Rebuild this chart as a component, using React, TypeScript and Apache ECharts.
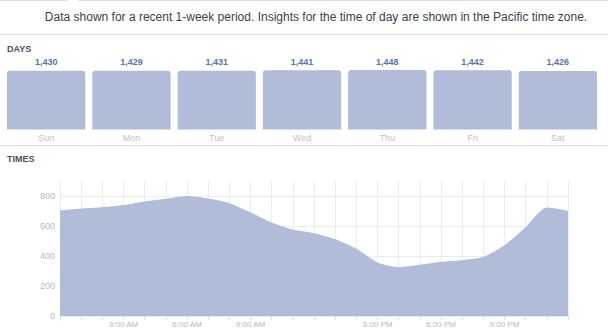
import React, { useEffect, useRef } from "react";
import * as echarts from "echarts";

const dayNames = ["Sun", "Mon", "Tue", "Wed", "Thu", "Fri", "Sat"];
const dayValues = [1430, 1429, 1431, 1441, 1448, 1442, 1426];

const hours = [0, 1, 2, 3, 4, 5, 6, 7, 8, 9, 10, 11, 12, 13, 14, 15, 16, 17, 18, 19, 20, 21, 22, 23, 24];
const hourValues = [700, 713, 722, 736, 760, 778, 796, 780, 749, 687, 620, 573, 549, 509, 445, 354, 323, 338, 358, 369, 391, 469, 589, 720, 698];

const hourLabels: Record<number, string> = {
  3: "3:00 AM",
  6: "6:00 AM",
  9: "9:00 AM",
  15: "3:00 PM",
  18: "6:00 PM",
  21: "9:00 PM",
};

const yTicksHidden = [900];

const FONT = "'Liberation Sans', Arial, Helvetica, sans-serif";

export default function App() {
  const ref = useRef<HTMLDivElement>(null);
  useEffect(() => {
    if (!ref.current) return;
    const chart = echarts.init(ref.current, undefined, { renderer: "svg" });
    const divider = "#dddfe2";
    chart.setOption({
      animation: false,
      textStyle: { fontFamily: FONT },
      graphic: [
        { type: "line", shape: { x1: 0, y1: 0.5, x2: 68, y2: 0.5 }, style: { stroke: divider, lineWidth: 1 } },
        { type: "line", shape: { x1: 78, y1: 0.5, x2: 608, y2: 0.5 }, style: { stroke: divider, lineWidth: 1 } },
        {
          type: "text",
          x: 316,
          y: 17,
          style: {
            text: "Data shown for a recent 1-week period. Insights for the time of day are shown in the Pacific time zone.",
            fontSize: 12,
            fontFamily: FONT,
            fill: "#3b3f46",
            align: "center",
            verticalAlign: "middle",
          },
        },
        { type: "line", shape: { x1: 0, y1: 34.5, x2: 608, y2: 34.5 }, style: { stroke: divider, lineWidth: 1 } },
        {
          type: "text",
          x: 7,
          y: 49,
          style: { text: "DAYS", fontSize: 9, fontWeight: "bold", fontFamily: FONT, fill: "#4b4f56", verticalAlign: "middle" },
        },
        { type: "line", shape: { x1: 0, y1: 145.5, x2: 608, y2: 145.5 }, style: { stroke: divider, lineWidth: 1 } },
        {
          type: "text",
          x: 7,
          y: 159,
          style: { text: "TIMES", fontSize: 9, fontWeight: "bold", fontFamily: FONT, fill: "#4b4f56", verticalAlign: "middle" },
        },
      ],
      grid: [
        { left: 3.5, right: 7.5, top: 70, height: 59.5 },
        { left: 60, right: 40, top: 181, height: 135 },
      ],
      xAxis: [
        {
          gridIndex: 0,
          type: "category",
          data: dayNames,
          axisLine: { show: false },
          axisTick: { show: false },
          axisLabel: { color: "#bdc1c8", fontSize: 9, margin: 4, fontFamily: FONT },
        },
        {
          gridIndex: 1,
          type: "value",
          min: 0,
          max: 24,
          interval: 1,
          axisLine: { show: false },
          axisTick: { show: true, length: 4, lineStyle: { color: "#dddfe2" } },
          axisLabel: {
            color: "#b4b8bf",
            fontSize: 8,
            margin: 4,
            fontFamily: FONT,
            formatter: (v: number) => hourLabels[v] || "",
          },
          splitLine: { show: true, lineStyle: { color: "#ececec", width: 1 } },
        },
      ],
      yAxis: [
        {
          gridIndex: 0,
          type: "value",
          min: 0,
          max: "dataMax",
          show: false,
        },
        {
          gridIndex: 1,
          type: "value",
          min: 0,
          max: 900,
          interval: 200,
          axisLine: { show: false },
          axisTick: { show: false },
          axisLabel: {
            color: "#b4b8bf",
            fontSize: 9,
            margin: 5,
            fontFamily: FONT,
            formatter: (v: number) => (yTicksHidden.includes(v) ? "" : String(v)),
          },
          splitLine: {
            show: true,
            lineStyle: { color: ["#ececec", "#ececec", "#ececec", "#ececec", "#ececec", "rgba(0,0,0,0)"] },
          },
        },
      ],
      series: [
        {
          type: "bar",
          xAxisIndex: 0,
          yAxisIndex: 0,
          data: dayValues,
          barCategoryGap: "8.2%",
          itemStyle: { color: "#b0bcd8", borderRadius: [3, 3, 0, 0] },
          label: {
            show: true,
            position: "top",
            distance: 4,
            color: "#5b72ae",
            fontSize: 9,
            fontWeight: "bold",
            fontFamily: FONT,
            formatter: (p: any) => Number(p.value).toLocaleString("en-US"),
          },
        },
        {
          type: "line",
          xAxisIndex: 1,
          yAxisIndex: 1,
          data: hours.map((h, i) => [h, hourValues[i]]),
          showSymbol: false,
          smooth: 0.25,
          lineStyle: { color: "#b0bcd8", width: 1 },
          areaStyle: { color: "#b0bcd8", opacity: 1 },
          z: 1,
        },
      ],
    });
    return () => chart.dispose();
  }, []);
  return (
    <div
      ref={ref}
      style={{ position: "fixed", left: 0, top: 0, width: 608, height: 332, background: "#fff" }}
    />
  );
}
